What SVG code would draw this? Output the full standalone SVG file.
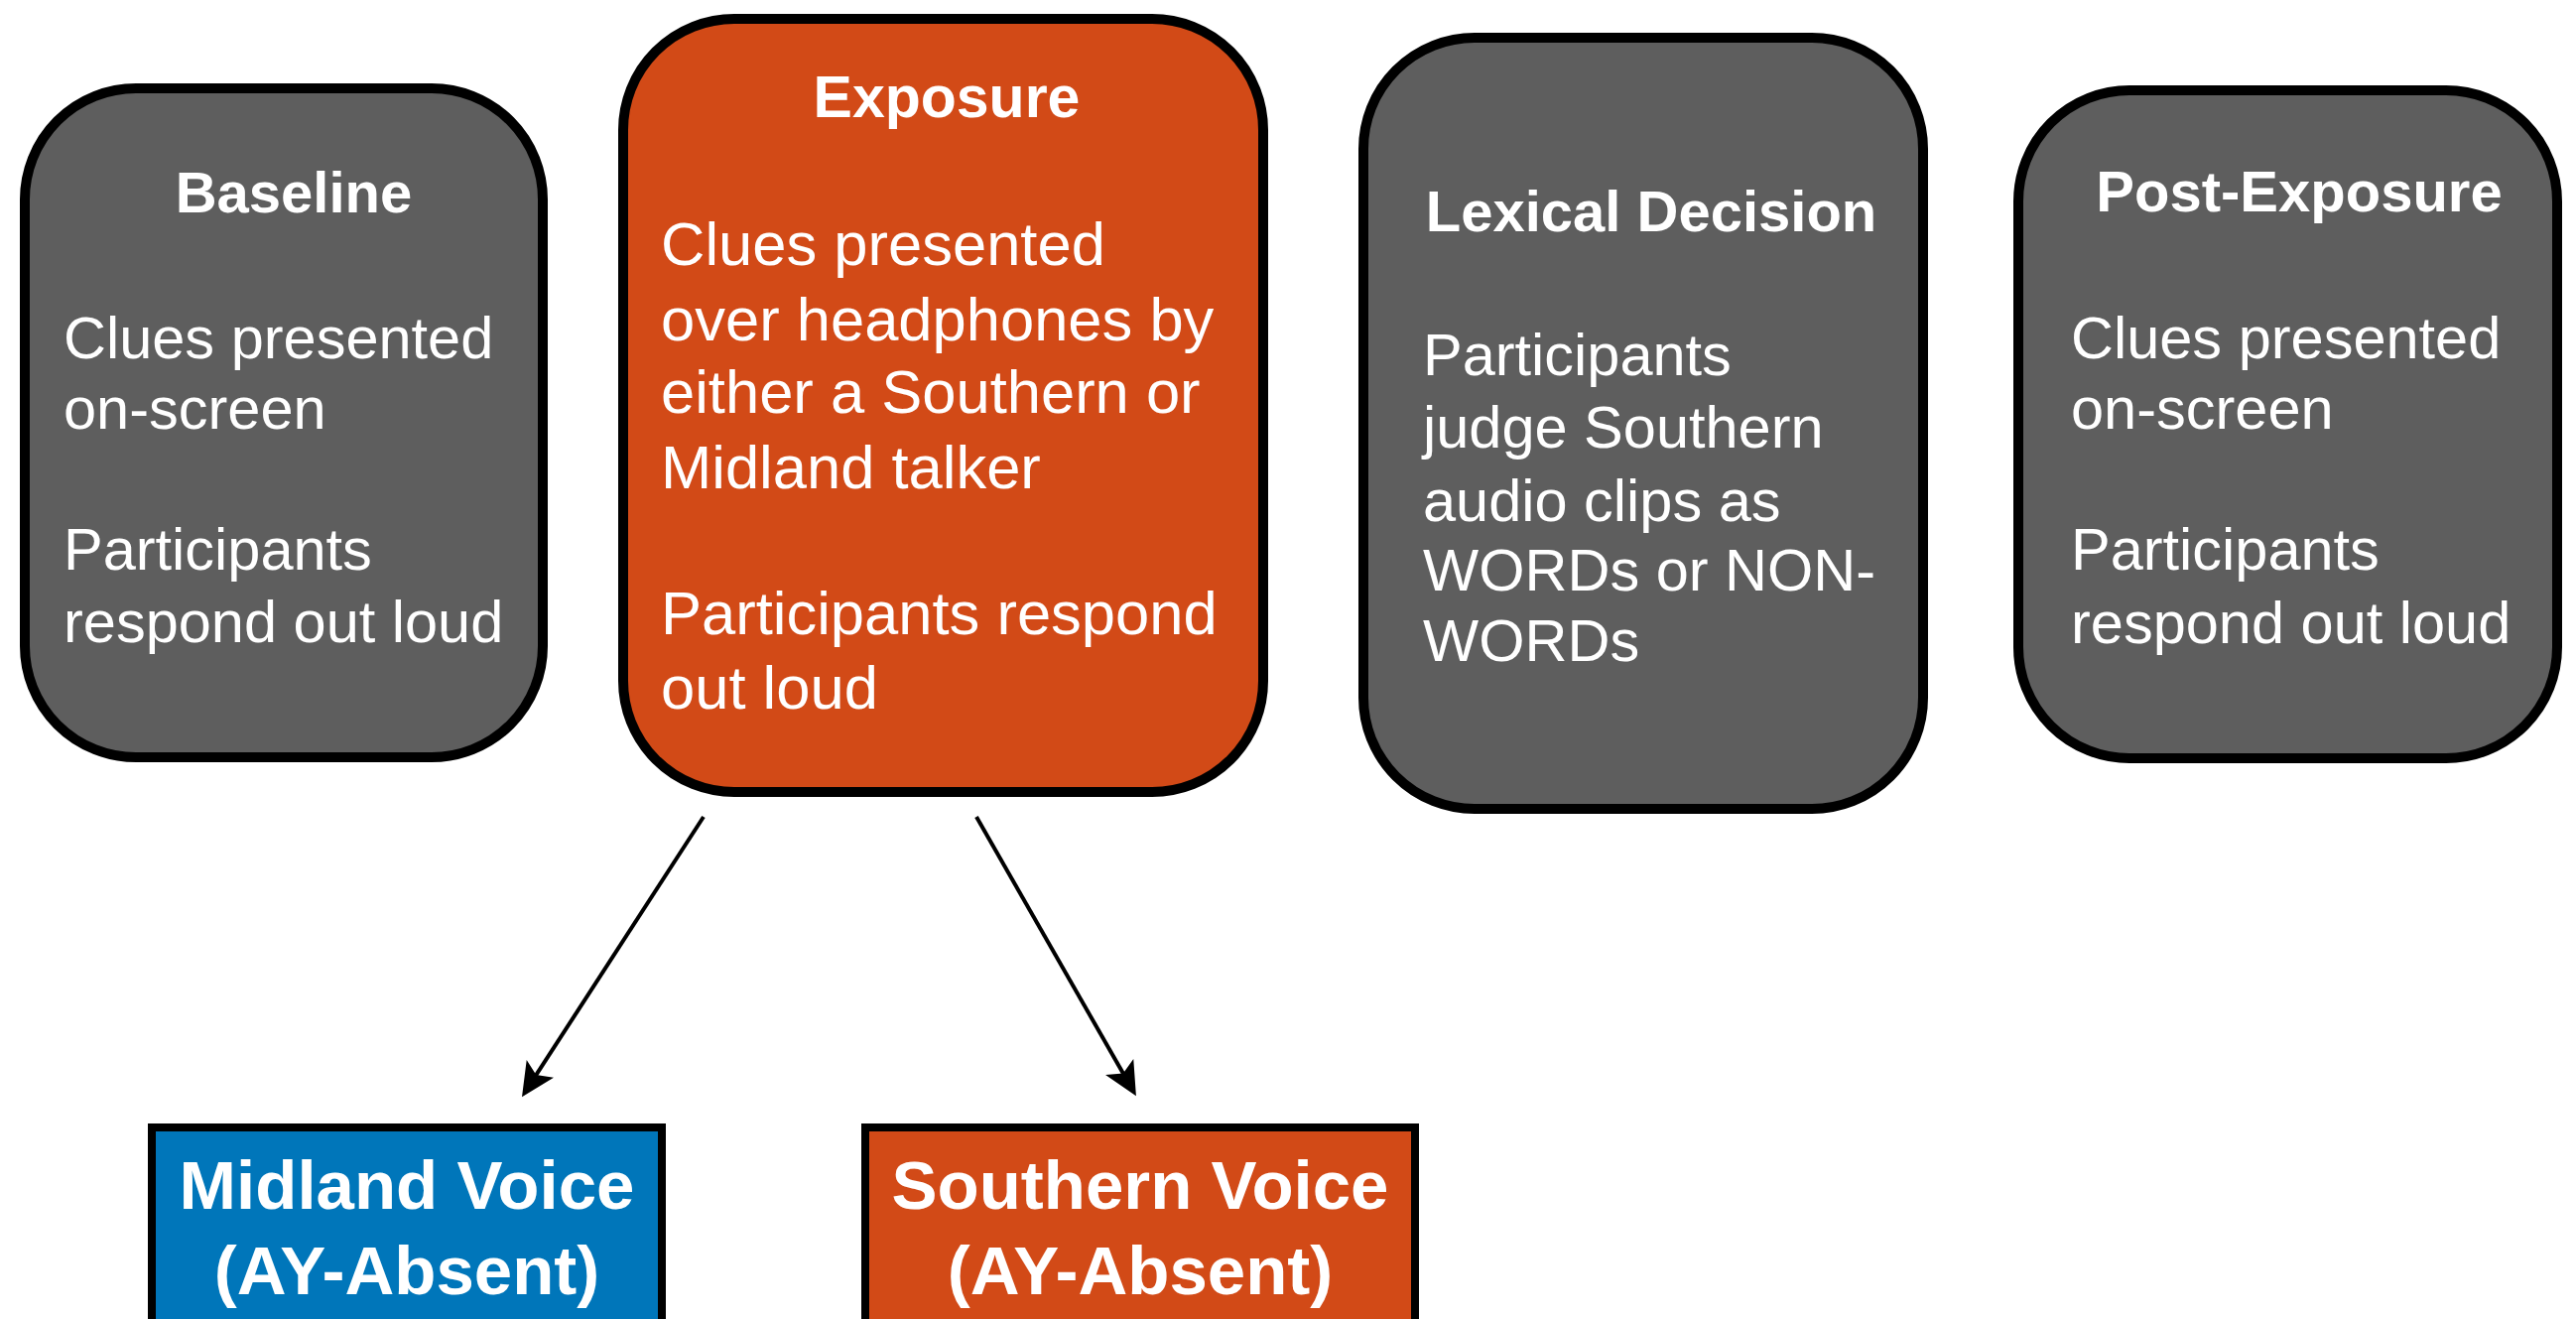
<svg xmlns="http://www.w3.org/2000/svg" width="2596" height="1329" viewBox="0 0 2596 1329">
<style>
.box{stroke:#000;stroke-width:10}
.gray{fill:#5E5E5E}
.orange{fill:#D24A17}
.blue{fill:#0076BA}
.sq{stroke:#000;stroke-width:8}
.t{font-family:"Liberation Sans",Arial,Helvetica,sans-serif;fill:#fff}
.title{font-weight:bold;font-size:58px;text-anchor:middle}
.body{font-size:59.5px}
.ebody{font-size:61.5px}
.voice{font-weight:bold;font-size:69px;text-anchor:middle}
.conn{stroke:#000;stroke-width:4;fill:none}
</style>
<defs>
<marker id="ah" markerUnits="userSpaceOnUse" markerWidth="40" markerHeight="40" viewBox="-30 -15 32 30" refX="-15" refY="0" orient="auto">
<path d="M0,0 L-27,-13 L-21,0 L-27,13 Z" fill="#000"/>
</marker>
</defs>
<rect width="2596" height="1329" fill="#fff"/>
<g id="baseline">
<rect class="box gray" x="25" y="89" width="522" height="674" rx="112"/>
<text class="t title" x="296" y="214">Baseline</text>
<text class="t body" x="64" y="361">Clues presented</text>
<text class="t body" x="64" y="432">on-screen</text>
<text class="t body" x="64" y="574">Participants</text>
<text class="t body" x="64" y="647">respond out loud</text>
</g>
<g id="exposure">
<rect class="box orange" x="628" y="19" width="645" height="779" rx="112"/>
<text class="t title" x="954" y="118" style="font-size:59px">Exposure</text>
<text class="t ebody" x="666" y="267">Clues presented</text>
<text class="t ebody" x="666" y="343">over headphones by</text>
<text class="t ebody" x="666" y="416">either a Southern or</text>
<text class="t ebody" x="666" y="492">Midland talker</text>
<text class="t ebody" x="666" y="639">Participants respond</text>
<text class="t ebody" x="666" y="714">out loud</text>
</g>
<g id="lexical">
<rect class="box gray" x="1374" y="38" width="564" height="777" rx="112"/>
<text class="t title" x="1664" y="233">Lexical Decision</text>
<text class="t body" x="1434" y="378">Participants</text>
<text class="t body" x="1434" y="451">judge Southern</text>
<text class="t body" x="1434" y="525">audio clips as</text>
<text class="t body" x="1434" y="595">WORDs or NON-</text>
<text class="t body" x="1434" y="666">WORDs</text>
</g>
<g id="post-exposure">
<rect class="box gray" x="2034" y="91" width="543" height="673" rx="112"/>
<text class="t title" x="2317" y="213">Post-Exposure</text>
<text class="t body" x="2087" y="361">Clues presented</text>
<text class="t body" x="2087" y="432">on-screen</text>
<text class="t body" x="2087" y="574">Participants</text>
<text class="t body" x="2087" y="648">respond out loud</text>
</g>
<g id="midland-voice">
<rect class="sq blue" x="153" y="1136" width="514" height="300"/>
<text class="t voice" x="410" y="1218">Midland Voice</text>
<text class="t voice" x="410" y="1304">(AY-Absent)</text>
</g>
<g id="southern-voice">
<rect class="sq orange" x="872" y="1136" width="554" height="300"/>
<text class="t voice" x="1149" y="1218">Southern Voice</text>
<text class="t voice" x="1149" y="1304">(AY-Absent)</text>
</g>
<g id="connectors">
<line class="conn" x1="709" y1="823" x2="536.2" y2="1089.4" marker-end="url(#ah)"/>
<line class="conn" x1="984" y1="823" x2="1135.6" y2="1088" marker-end="url(#ah)"/>
</g>
</svg>
